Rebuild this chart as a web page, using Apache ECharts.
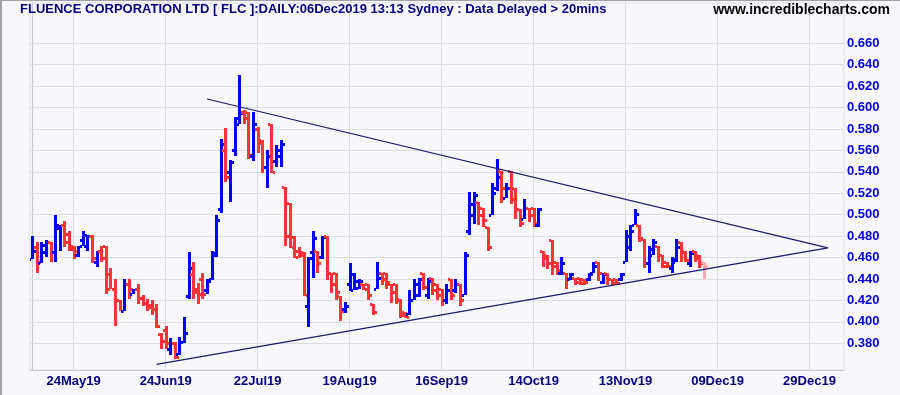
<!DOCTYPE html>
<html><head><meta charset="utf-8">
<script src="https://cdn.jsdelivr.net/npm/echarts@6/dist/echarts.min.js"></script>
<style>html,body{margin:0;padding:0;background:#f8f8fc;} #c{width:900px;height:395px;}</style>
</head><body><div id="c"></div>
<script>
// Daily OHLC bars (trading-day index 0..146), FLC
const opens = [
 .459,.470,.455,.465,.475,.465,.488,.490,.482,.468,
 .462,.476,.471,.480,.456,.466,.471,.445,.431,.420,
 .410,.435,.426,.431,.422,.418,.416,.412,.389,.392,
 .375,.380,.370,.381,.424,.445,.431,.440,.430,.440,
 .462,.505,.560,.540,.560,.590,.596,.596,.555,.580,
 .570,.545,.585,.550,.555,.526,.511,.479,.466,.465,
 .415,.465,.466,.461,.480,.446,.446,.424,.412,.435,
 .430,.432,.435,.435,.417,.431,.446,.446,.435,.435,
 .421,.409,.407,.420,.425,.446,.425,.441,.435,.431,
 .420,.440,.430,.435,.425,.485,.500,.512,.506,.489,
 .500,.525,.541,.516,.541,.525,.505,.496,.506,.506,
 .490,.466,.462,.476,.456,.446,.446,.440,.441,.441,
 .440,.440,.446,.456,.437,.446,.440,.440,.440,.456,
 .470,.490,.490,.477,.455,.462,.471,.462,.456,.450,
 .456,.475,.466,.455,.466,.462,.456];
const highs = [
 .480,.475,.475,.476,.475,.500,.490,.494,.485,.471,
 .471,.485,.481,.481,.466,.471,.471,.450,.440,.420,
 .440,.440,.431,.435,.425,.421,.420,.417,.390,.396,
 .385,.381,.386,.405,.465,.456,.436,.446,.440,.466,
 .500,.571,.581,.551,.591,.630,.598,.596,.596,.582,
 .570,.560,.585,.565,.570,.526,.511,.480,.470,.465,
 .461,.485,.466,.480,.480,.446,.446,.424,.419,.455,
 .446,.440,.435,.435,.417,.456,.446,.446,.435,.435,
 .421,.409,.430,.440,.441,.446,.441,.441,.435,.431,
 .435,.440,.440,.435,.465,.521,.521,.512,.506,.489,
 .530,.552,.541,.530,.541,.525,.505,.515,.506,.506,
 .506,.466,.462,.476,.456,.461,.446,.446,.441,.441,
 .440,.446,.456,.456,.446,.446,.440,.440,.446,.486,
 .490,.505,.490,.477,.471,.477,.471,.462,.456,.461,
 .477,.475,.466,.466,.466,.462,.456];
const lows = [
 .459,.446,.455,.461,.456,.456,.466,.470,.466,.459,
 .461,.471,.466,.455,.451,.456,.426,.431,.396,.410,
 .410,.421,.426,.417,.415,.410,.406,.394,.375,.375,
 .369,.365,.369,.380,.421,.421,.417,.421,.426,.439,
 .461,.502,.531,.512,.555,.585,.585,.552,.550,.558,
 .539,.525,.539,.545,.545,.471,.469,.460,.460,.424,
 .395,.441,.446,.459,.439,.427,.420,.401,.408,.429,
 .430,.431,.430,.420,.406,.431,.434,.431,.418,.417,
 .404,.404,.406,.420,.423,.430,.421,.425,.420,.415,
 .417,.420,.427,.415,.425,.481,.491,.490,.489,.466,
 .500,.522,.511,.516,.510,.496,.489,.496,.493,.489,
 .489,.451,.449,.444,.444,.444,.431,.439,.434,.434,
 .434,.438,.446,.438,.435,.434,.434,.434,.438,.456,
 .466,.490,.475,.450,.446,.462,.456,.450,.450,.446,
 .456,.456,.456,.451,.456,.450,.440];
const closes = [
 .466,.456,.472,.475,.465,.490,.490,.475,.471,.466,
 .471,.481,.480,.460,.466,.460,.431,.431,.420,.410,
 .435,.431,.431,.422,.418,.414,.412,.396,.382,.380,
 .380,.367,.381,.390,.450,.428,.426,.426,.438,.464,
 .495,.566,.535,.549,.585,.595,.590,.556,.585,.567,
 .545,.555,.540,.560,.566,.480,.470,.461,.462,.425,
 .460,.478,.455,.479,.446,.435,.428,.410,.415,.445,
 .438,.438,.431,.425,.409,.441,.440,.437,.428,.420,
 .406,.405,.420,.435,.440,.433,.438,.430,.425,.420,
 .430,.425,.435,.420,.462,.510,.518,.500,.495,.470,
 .520,.535,.525,.525,.515,.505,.492,.506,.500,.492,
 .505,.460,.455,.452,.448,.455,.440,.445,.437,.436,
 .437,.445,.452,.446,.445,.440,.436,.436,.445,.480,
 .485,.501,.478,.455,.468,.475,.462,.452,.452,.459,
 .470,.465,.458,.464,.460,.455,.452];

// x-axis date labels (slot index -> label)
const tickIndex  = [9, 29, 49, 69, 89, 109, 129, 149, 169];
const tickLabels = ['24May19','24Jun19','22Jul19','19Aug19','16Sep19','14Oct19','13Nov19','09Dec19','29Dec19'];
const totalSlots = 177;
// price axis labels
const priceTicks = [0.38,0.40,0.42,0.44,0.46,0.48,0.50,0.52,0.54,0.56,0.58,0.60,0.62,0.64,0.66];
// triangle trendlines [slot, price]
const upperTrend = [[38, 0.608], [173, 0.469]];
const lowerTrend = [[27, 0.3604], [173, 0.469]];

const ohlc = opens.map((o, i) => [i, o, highs[i], lows[i], closes[i]]);

const BLUE = '#0000ff', RED = '#ff3333', PINK = '#ffaaaa';
function renderItem(params, api) {
  const i = api.value(0);
  const o = api.value(1), c = api.value(4);
  const pO = api.coord([i, o]);
  const pH = api.coord([i, api.value(2)]);
  const pL = api.coord([i, api.value(3)]);
  const pC = api.coord([i, c]);
  const cx = Math.round(pH[0]);
  const last = params.dataIndex === opens.length - 1;
  const color = last ? PINK : (c >= o ? BLUE : RED);
  const top = Math.round(pH[1]), bot = Math.round(pL[1]);
  const yo = Math.round(pO[1]), yc = Math.round(pC[1]);
  return {
    type: 'group',
    children: [
      {type: 'rect', shape: {x: cx - 1, y: top, width: 3, height: Math.max(bot - top, 2)}, style: {fill: color}},
      {type: 'rect', shape: {x: cx - 3, y: yo - 1, width: 2, height: 3}, style: {fill: color}},
      {type: 'rect', shape: {x: cx + 2, y: yc - 1, width: 2, height: 3}, style: {fill: color}}
    ]
  };
}

const chart = echarts.init(document.getElementById('c'), null, {renderer: 'canvas'});
const gridColor = '#dcdce4';
chart.setOption({
  animation: false,
  backgroundColor: '#f8f8fc',
  grid: {left: 30, right: 56, top: 3, bottom: 25, show: true, borderColor: gridColor, borderWidth: 1},
  xAxis: {
    type: 'value', min: -0.5, max: totalSlots - 0.5,
    axisLine: {show: true, lineStyle: {color: '#c8c8d0'}},
    axisTick: {show: false, customValues: tickIndex},
    axisLabel: {
      customValues: tickIndex,
      formatter: v => tickLabels[tickIndex.indexOf(Math.round(v))] || '',
      color: '#000080', fontWeight: 'bold', fontSize: 13,
      fontFamily: '"Liberation Sans", Arial, sans-serif', margin: 5
    },
    splitLine: {show: true, lineStyle: {color: gridColor, width: 1}}
  },
  yAxis: {
    type: 'value', position: 'right', min: 0.3551, max: 0.6976, scale: true,
    axisLine: {show: true, lineStyle: {color: '#c8c8d0'}},
    axisTick: {show: true, length: 3, customValues: priceTicks, lineStyle: {color: gridColor}},
    axisLabel: {
      customValues: priceTicks,
      formatter: v => v.toFixed(3),
      color: '#0000e6', fontWeight: 'bold', fontSize: 13,
      fontFamily: '"Liberation Sans", Arial, sans-serif', margin: 3
    },
    splitLine: {show: true, lineStyle: {color: gridColor, width: 1}}
  },
  graphic: [
    {type: 'rect', shape: {x: 0, y: 0, width: 2, height: 395}, style: {fill: '#a0a0a8'}, z: 100},
    {type: 'rect', shape: {x: 0, y: 0, width: 900, height: 1}, style: {fill: '#a0a0a8'}, z: 100},
    {type: 'text', left: 20, top: 3, z: 100,
     style: {text: 'FLUENCE CORPORATION LTD [ FLC ]:DAILY:06Dec2019 13:13 Sydney : Data Delayed > 20mins',
             font: 'bold 13px "Liberation Sans", Arial, sans-serif', fill: '#000080'}},
    {type: 'text', right: 10, top: 3, z: 100,
     style: {text: 'www.incrediblecharts.com', font: 'bold 14px "Liberation Sans", Arial, sans-serif', fill: '#000000'}}
  ],
  series: [
    {type: 'custom', renderItem: renderItem, data: ohlc, encode: {x: 0, y: [1, 2, 3, 4]}, z: 2, clip: true},
    {type: 'line', data: upperTrend, symbol: 'none', silent: true, z: 3,
     lineStyle: {color: '#1a1a6e', width: 1.2}},
    {type: 'line', data: lowerTrend, symbol: 'none', silent: true, z: 3,
     lineStyle: {color: '#1a1a6e', width: 1.2}}
  ]
});
</script></body></html>
